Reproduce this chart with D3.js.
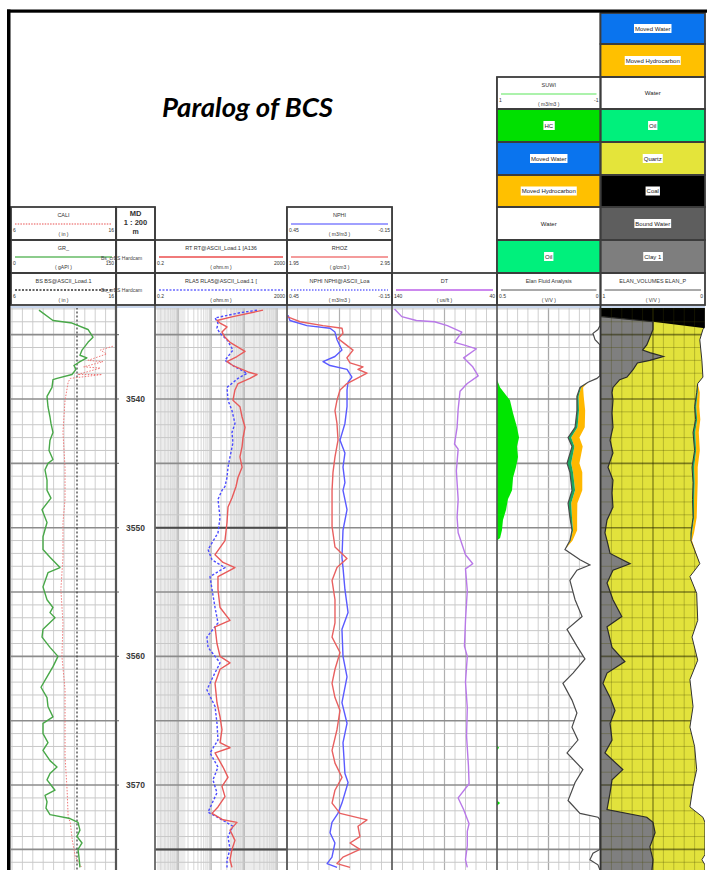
<!DOCTYPE html>
<html>
<head>
<meta charset="utf-8">
<script src="https://cdn.jsdelivr.net/npm/d3@7"></script>
<style>
  html, body { margin: 0; padding: 0; background: #fff; }
  svg { display: block; }
</style>
</head>
<body>
<svg id="chart" width="707" height="870"></svg>
<script>
// ---------------- well log data: [measured depth (m), value] ----------------
const grLog = [[3533.1,38.9],[3533.9,59.1],[3534.1,86.5],[3534.6,109.6],[3535.2,116.8],[3535.6,109.6],[3536.2,101],[3536.6,98],[3536.8,108],[3537.1,98],[3537.4,89.4],[3537.7,92.3],[3538.1,86.5],[3538.4,64.9],[3538.5,59.1],[3539.1,57.7],[3539.8,50.5],[3540.6,51.9],[3541.4,54.8],[3541.9,56.2],[3542.6,59.1],[3543.2,54.8],[3544.0,53.4],[3544.7,59.1],[3545.0,51.9],[3545.5,47.6],[3546.3,50.5],[3547.1,50.5],[3547.7,56.2],[3548.6,43.3],[3549.6,50.5],[3550.7,44.7],[3551.7,44.7],[3552.3,54.8],[3553.1,69.2],[3553.5,51.9],[3554.6,44.7],[3555.6,50.5],[3556.2,59.1],[3556.6,54.8],[3557.0,62],[3557.9,44.7],[3558.5,43.3],[3559.3,54.8],[3560.0,66.3],[3560.8,59.1],[3561.6,50.5],[3562.4,41.8],[3563.2,50.5],[3563.9,51.9],[3564.7,59.1],[3565.2,44.7],[3566.0,44.7],[3566.7,51.9],[3567.3,44.7],[3568.1,54.8],[3568.6,64.9],[3569.1,54.8],[3569.6,50.5],[3570.4,62],[3570.8,47.6],[3571.3,50.5],[3571.8,49],[3572.3,54.8],[3572.6,83.7],[3572.9,95.2],[3573.5,98],[3574.0,93.7],[3574.5,101],[3575.0,95.2],[3575.6,96.6],[3576.4,98]];

const caliLog = [[3535.9,15.7],[3536.2,14.5],[3536.5,15.1],[3537.0,13.3],[3537.1,14.75],[3537.5,12.9],[3537.6,14.5],[3538.1,12.3],[3538.1,14.65],[3538.4,11.6],[3538.7,11.4],[3540.1,11.1],[3542.6,10.9],[3545.3,11.1],[3547.8,11.1],[3549.6,10.9],[3552.3,10.9],[3554.8,10.7],[3557.4,10.9],[3560.0,10.8],[3562.6,11.1],[3565.2,11.1],[3567.8,11.1],[3570.4,11.3],[3572.5,11.4],[3572.9,11.6],[3574.3,11.8],[3575.6,12.1],[3576.4,12.7]];

const bsLog = [[3532.9,12.25],[3576.6,12.25]];

const rtLog = [[3533.1,375],[3533.6,46],[3533.9,15.1],[3534.1,18.7],[3534.4,30.4],[3534.8,21.4],[3535.2,26.4],[3535.6,37.5],[3536.3,107],[3536.7,61],[3537.1,30.4],[3537.4,46],[3537.9,132],[3538.1,247],[3538.4,151],[3538.8,65.5],[3539.3,53],[3540.1,46],[3540.6,75],[3541.4,87],[3542.2,107],[3543.0,93],[3543.7,87],[3544.5,75],[3545.3,87],[3546.1,65.5],[3546.8,57],[3547.7,43],[3548.4,32.6],[3549.6,30.4],[3551.0,26.4],[3552.1,13.2],[3552.7,23],[3553.1,53],[3553.8,16.2],[3554.8,16.2],[3556.2,18.7],[3557.2,37.5],[3557.7,13.2],[3559.0,15.1],[3560.0,18.7],[3560.5,37.5],[3561.0,18.7],[3562.1,13.2],[3563.6,15.1],[3564.7,18.7],[3565.7,21.4],[3566.7,18.7],[3567.1,37.5],[3567.5,13.2],[3568.6,23],[3569.4,32.6],[3570.1,21.4],[3570.9,26.4],[3571.7,16.2],[3572.2,10.7],[3572.7,23],[3572.9,61],[3573.5,37.5],[3574.3,53],[3575.0,43],[3575.8,37.5],[3576.4,43]];

const rla5Log = [[3533.1,247],[3533.3,75],[3533.7,13.2],[3534.1,16.2],[3534.5,15.1],[3534.9,18.7],[3535.4,30.4],[3536.2,46],[3537.0,26.4],[3537.5,53],[3538.0,123],[3538.4,65.5],[3539.1,30.4],[3540.1,32.6],[3540.9,43],[3541.9,53],[3542.6,43],[3543.4,46],[3544.5,37.5],[3545.3,32.6],[3546.1,30.4],[3546.8,26.4],[3547.1,21.4],[3547.8,16.2],[3549.2,18.7],[3550.4,16.2],[3551.7,8.1],[3552.5,10.7],[3553.1,26.4],[3553.8,9.3],[3554.8,10.7],[3556.2,13.2],[3557.4,16.2],[3558.5,7.5],[3559.3,8.1],[3560.5,18.7],[3561.6,11.4],[3562.6,7.5],[3563.9,13.2],[3565.2,15.1],[3566.5,16.2],[3567.5,9.3],[3568.6,16.2],[3569.6,11.4],[3570.6,15.1],[3572.1,8.1],[3572.7,21.4],[3573.2,46],[3574.0,32.6],[3575.0,37.5],[3575.8,30.4],[3576.4,30.4]];

const nphiLog = [[3533.5,0.444],[3533.9,0.433],[3534.3,0.336],[3534.5,0.204],[3534.8,0.176],[3535.4,0.164],[3536.2,0.136],[3536.7,0.176],[3537.1,0.244],[3537.4,0.204],[3537.7,0.107],[3538.3,0.079],[3538.7,0.101],[3539.3,0.107],[3540.6,0.107],[3541.9,0.119],[3543.2,0.147],[3544.2,0.119],[3545.3,0.130],[3546.5,0.119],[3547.1,0.130],[3548.6,0.107],[3550.2,0.130],[3552.3,0.136],[3553.1,0.130],[3554.8,0.119],[3556.6,0.101],[3557.9,0.136],[3560.0,0.130],[3561.6,0.107],[3563.6,0.136],[3565.2,0.107],[3566.7,0.130],[3569.1,0.119],[3569.8,0.101],[3571.4,0.136],[3572.2,0.159],[3572.9,0.193],[3573.7,0.204],[3574.5,0.176],[3575.6,0.193],[3576.1,0.221],[3576.4,0.164]];

const rhozLog = [[3533.6,1.95],[3534.0,2.074],[3534.3,2.293],[3534.5,2.474],[3534.9,2.483],[3535.3,2.436],[3535.6,2.483],[3536.2,2.579],[3536.8,2.521],[3537.2,2.55],[3537.5,2.674],[3537.7,2.626],[3538.0,2.712],[3538.4,2.617],[3538.8,2.521],[3539.3,2.455],[3540.1,2.426],[3540.9,2.407],[3541.9,2.426],[3543.2,2.436],[3544.5,2.407],[3545.7,2.388],[3547.1,2.379],[3548.6,2.379],[3549.9,2.379],[3551.5,2.407],[3552.4,2.521],[3553.1,2.426],[3554.1,2.379],[3555.6,2.407],[3557.4,2.407],[3558.5,2.379],[3559.7,2.455],[3561.0,2.407],[3562.1,2.379],[3563.2,2.407],[3564.2,2.455],[3565.7,2.426],[3567.3,2.379],[3568.3,2.407],[3569.4,2.474],[3570.4,2.407],[3571.4,2.379],[3572.2,2.455],[3572.7,2.712],[3573.2,2.626],[3574.0,2.645],[3574.5,2.55],[3575.0,2.645],[3575.6,2.483],[3576.1,2.426],[3576.4,2.55]];

const dtLog = [[3533.0,137.6],[3533.6,130.7],[3533.9,116.8],[3534.0,99.5],[3534.3,87.3],[3534.8,73.5],[3535.6,80.5],[3535.8,71.8],[3536.1,59.6],[3536.8,71.8],[3537.5,63.1],[3538.2,57.9],[3538.8,68.3],[3539.4,75.2],[3540.8,77.0],[3542.2,78.0],[3543.5,80.5],[3543.9,77.0],[3545.6,78.7],[3547.8,77.0],[3549.2,78.0],[3550.4,77.0],[3552.1,70.0],[3552.8,63.1],[3553.2,70.0],[3554.9,68.3],[3557.2,70.0],[3559.2,71.0],[3560.0,68.3],[3562.0,70.0],[3564.0,68.3],[3566.2,69.0],[3568.5,67.2],[3569.9,66.6],[3571.0,77.0],[3571.9,71.8],[3573.0,66.6],[3573.6,68.3],[3574.7,68.3],[3575.8,70.0],[3576.4,68.3]];

// hydrocarbon volume (V/V) from the Elan fluid analysis
const hcLog = [[3538.5,0],[3538.7,0.005],[3539.1,0.015],[3540.1,0.063],[3541.1,0.078],[3542.2,0.097],[3543.0,0.107],[3543.7,0.097],[3544.5,0.102],[3545.3,0.092],[3546.1,0.078],[3547.1,0.073],[3547.8,0.053],[3548.6,0.044],[3549.4,0.029],[3550.2,0.024],[3550.8,0.015],[3551.0,0],[3566.9,0],[3567.1,0.01],[3567.3,0],[3571.2,0],[3571.4,0.015],[3571.6,0]];

// Elan fluid analysis: porosity split into water / moved hydrocarbon / oil
const fluidDepth = [3532.93,3534.3,3534.6,3534.9,3535.4,3535.8,3538.2,3538.4,3538.7,3539.1,3539.8,3540.9,3542.2,3543.0,3543.7,3545.0,3545.7,3547.1,3548.1,3549.2,3550.2,3551.0,3551.7,3552.5,3552.9,3553.3,3554.1,3555.6,3556.9,3557.9,3559.2,3560.2,3561.3,3562.1,3563.4,3564.4,3565.5,3566.5,3567.5,3568.8,3569.8,3571.2,3572.2,3572.5,3572.7,3575.0,3575.3,3575.8,3576.2,3576.6];
const fluidPhi = [0,0,0.010,0.034,0.024,0,0,0.015,0.058,0.097,0.112,0.112,0.121,0.155,0.136,0.160,0.146,0.136,0.155,0.146,0.136,0.146,0.170,0.097,0.049,0.112,0.146,0.121,0.087,0.160,0.112,0.073,0.131,0.180,0.136,0.112,0.136,0.107,0.160,0.083,0.121,0.155,0.097,0.010,0,0,0.034,0.049,0.010,0];
const fluidOil = [0,0,0,0,0,0,0,0,0,0.005,0.008,0.010,0.012,0.015,0.012,0.020,0.015,0.015,0.015,0.010,0.005,0.003,0,0,0,0,0,0,0,0,0,0,0,0,0,0,0,0,0,0,0,0,0,0,0,0,0,0,0,0];
const fluidMovedHc = [0,0,0,0,0,0,0,0,0,0.010,0.025,0.030,0.035,0.040,0.040,0.040,0.045,0.035,0.030,0.025,0.020,0.010,0,0,0,0,0,0,0,0,0,0,0,0,0,0,0,0,0,0,0,0,0,0,0,0,0,0,0,0];

// Elan volumes: pore space on the right, clay from the left, coal at the top
const volDepth = [3532.93,3534.4,3534.6,3535.4,3537.0,3538.3,3538.8,3539.5,3540.6,3541.6,3542.6,3544.0,3545.3,3546.5,3547.8,3549.2,3550.4,3551.0,3552.8,3553.8,3555.1,3557.2,3558.5,3560.3,3561.8,3563.9,3565.5,3567.0,3568.8,3570.1,3571.7,3572.5,3572.9,3575.4,3575.8,3576.2,3576.6];
const volPhi = [0,0,0.02,0.05,0.03,0.02,0.07,0.08,0.10,0.09,0.115,0.10,0.125,0.115,0.12,0.115,0.135,0.135,0.05,0.145,0.08,0.07,0.125,0.07,0.145,0.115,0.145,0.10,0.08,0.115,0.145,0.02,0,0,0.03,0,0];
const volOil = [0,0,0,0,0,0,0,0.010,0.015,0.015,0.020,0.015,0.020,0.015,0.015,0.010,0.010,0,0,0,0,0,0,0,0,0,0,0,0,0,0,0,0,0,0,0,0];
const volMovedHc = [0,0,0,0,0,0,0,0.020,0.030,0.030,0.035,0.035,0.035,0.030,0.030,0.025,0.020,0.010,0,0,0,0,0,0,0,0,0,0,0,0,0,0,0,0,0,0,0];
const clayLog = [[3533.6,0],[3534.0,0.50],[3534.6,0.50],[3535.2,0.47],[3535.8,0.44],[3536.2,0.40],[3536.4,0.47],[3536.7,0.60],[3537.0,0.47],[3537.2,0.35],[3537.7,0.31],[3538.3,0.25],[3538.5,0.18],[3539.1,0.115],[3539.5,0.106],[3540.1,0.115],[3541.1,0.106],[3542.2,0.115],[3543.2,0.087],[3544.2,0.115],[3545.3,0.067],[3546.3,0.115],[3547.3,0.106],[3548.4,0.115],[3549.4,0.058],[3550.4,0.038],[3551.0,0.058],[3552.0,0.087],[3552.8,0.28],[3553.3,0.115],[3554.3,0.058],[3555.6,0.115],[3556.9,0.20],[3557.7,0.058],[3559.3,0.106],[3560.4,0.23],[3561.3,0.058],[3562.1,0.019],[3563.2,0.087],[3564.2,0.135],[3565.2,0.087],[3566.5,0.106],[3567.5,0.038],[3568.8,0.21],[3569.6,0.106],[3570.6,0.087],[3571.9,0.058],[3572.5,0.44],[3572.9,0.50],[3573.7,0.52],[3574.8,0.47],[3575.8,0.50],[3576.6,0.49]];
const coalLog = [[3532.93,1],[3533.6,1],[3534.0,0.5],[3534.5,0]];

const depthLabels = [3540, 3550, 3560, 3570];

// ---------------- layout ----------------
const svg = d3.select('#chart');
const FONT = "'Liberation Sans', Arial, sans-serif";
const yTop = 308, yBottom = 870;
const y = d3.scaleLinear().domain([3532.93, 3576.6]).range([yTop, yBottom]);

const T = {
  gr: [11, 116], md: [116, 155], res: [155, 287], por: [287, 392],
  son: [392, 497], fluid: [497, 600], vol: [601, 705]
};

const grX = d3.scaleLinear([0, 150], [12, 116]);
const caliX = d3.scaleLinear([6, 16], [12, 116]);
const resX = d3.scaleLog([0.2, 2000], T.res);
const nphiX = d3.scaleLinear([0.45, -0.15], T.por);
const rhozX = d3.scaleLinear([1.95, 2.95], T.por);
const dtX = d3.scaleLinear([140, 40], T.son);
const fluidX = d3.scaleLinear([0.5, 0], T.fluid);
const volX = d3.scaleLinear([1, 0], T.vol);

svg.append('rect').attr('width', 707).attr('height', 870).attr('fill', '#fff');

const defs = svg.append('defs');
Object.entries(T).forEach(([k, [x0, x1]]) => {
  defs.append('clipPath').attr('id', 'clip-' + k)
    .append('rect').attr('x', x0).attr('y', yTop).attr('width', x1 - x0).attr('height', yBottom - yTop);
});

function trackGroup(k) { return svg.append('g').attr('clip-path', `url(#clip-${k})`); }

const meterDepths = d3.range(3533, 3577);

function hGrid(g, x0, x1, minor, major, wMinor, wMajor) {
  g.selectAll(null).data(meterDepths).join('line')
    .attr('x1', x0).attr('x2', x1)
    .attr('y1', d => y(d)).attr('y2', d => y(d))
    .attr('stroke', d => d % 5 === 0 ? major : minor)
    .attr('stroke-width', d => d % 5 === 0 ? wMajor : wMinor);
}
function vGrid(g, xs, color, w) {
  g.selectAll(null).data(xs).join('line')
    .attr('x1', d => d).attr('x2', d => d)
    .attr('y1', yTop).attr('y2', yBottom)
    .attr('stroke', color).attr('stroke-width', w);
}
function linearTicks(scale, n) {
  const [a, b] = scale.domain();
  return d3.range(n + 1).map(i => scale(a + (b - a) * i / n));
}
function curve(g, data, sx, color, width, dash) {
  g.append('path').datum(data)
    .attr('d', d3.line().x(d => sx(d[1])).y(d => y(d[0])))
    .attr('fill', 'none').attr('stroke', color).attr('stroke-width', width)
    .attr('stroke-linejoin', 'round')
    .attr('stroke-dasharray', dash || null);
}

// ---- track 1: GR / CALI / BS ----
{
  const g = trackGroup('gr');
  vGrid(g, linearTicks(grX, 10), '#cfcfcf', 1);
  hGrid(g, ...T.gr, '#c8c8c8', '#8c8c8c', 1, 1.6);
  curve(g, bsLog, caliX, '#333', 1.2, '2,2');
  curve(g, caliLog, caliX, '#f07878', 1, '1.5,1.5');
  curve(g, grLog, grX, '#48a848', 1.4);
}

// ---- depth track ----
{
  const g = svg.append('g');
  g.selectAll(null).data(depthLabels).join('text')
    .attr('x', 135.5).attr('y', d => y(d) + 3)
    .attr('text-anchor', 'middle')
    .attr('font-family', FONT).attr('font-weight', 'bold').attr('font-size', 8.5)
    .attr('fill', '#3a3a3a').text(d => d);
  g.selectAll(null).data(meterDepths.filter(d => d % 5 === 0)).join('line')
    .attr('x1', 116).attr('x2', 119).attr('y1', d => y(d)).attr('y2', d => y(d))
    .attr('stroke', '#777').attr('stroke-width', 1.2);
}

// ---- track 3: resistivity (log) ----
{
  const g = trackGroup('res');
  // shaded bands of the resistivity grid
  const w = T.res[1] - T.res[0];
  g.selectAll(null).data([[0.015, 0.23], [0.57, 0.92]]).join('rect')
    .attr('x', d => T.res[0] + d[0] * w).attr('width', d => (d[1] - d[0]) * w)
    .attr('y', yTop).attr('height', yBottom - yTop)
    .attr('fill', '#ececec');
  const minor = [], decades = [];
  for (let k = -1; k <= 3; k++) for (let m = 1; m <= 9; m++) {
    const v = m * Math.pow(10, k);
    if (v >= 0.2 && v <= 2000) (m === 1 ? decades : minor).push(resX(v));
  }
  vGrid(g, minor, '#d6d6d6', 1);
  vGrid(g, decades, '#a8a8a8', 1.2);
  hGrid(g, ...T.res, '#c8c8c8', '#8c8c8c', 1, 1.6);
  g.selectAll(null).data([3550, 3575]).join('line')
    .attr('x1', T.res[0]).attr('x2', T.res[1]).attr('y1', d => y(d)).attr('y2', d => y(d))
    .attr('stroke', '#4a4a4a').attr('stroke-width', 2);
  curve(g, rla5Log, resX, '#4b4bff', 1.4, '2.5,1.8');
  curve(g, rtLog, resX, '#e85a5a', 1.4);
}

// ---- track 4: NPHI / RHOZ ----
{
  const g = trackGroup('por');
  const xs = linearTicks(nphiX, 10);
  vGrid(g, xs, '#cfcfcf', 1);
  vGrid(g, [xs[5]], '#b0b0b0', 1.2);
  hGrid(g, ...T.por, '#c8c8c8', '#8c8c8c', 1, 1.6);
  curve(g, nphiLog, nphiX, '#5a5aff', 1.4);
  curve(g, rhozLog, rhozX, '#e86060', 1.4);
}

// ---- track 5: DT ----
{
  const g = trackGroup('son');
  const xs = linearTicks(dtX, 10);
  vGrid(g, xs, '#cfcfcf', 1);
  vGrid(g, [xs[5]], '#b0b0b0', 1.2);
  hGrid(g, ...T.son, '#c8c8c8', '#8c8c8c', 1, 1.6);
  curve(g, dtLog, dtX, '#b878e8', 1.4);
}

// ---- track 6: Elan fluid analysis ----
{
  const g = trackGroup('fluid');
  const xs = linearTicks(fluidX, 10);
  vGrid(g, xs, '#cfcfcf', 1);
  vGrid(g, [xs[5]], '#a8a8a8', 1.3);
  hGrid(g, ...T.fluid, '#c8c8c8', '#8c8c8c', 1, 1.6);

  g.append('path').datum(hcLog)
    .attr('d', d3.area().y(d => y(d[0])).x0(fluidX(0.5)).x1(d => fluidX(0.5 - d[1])))
    .attr('fill', '#00e600');

  const rows = fluidDepth.map((d, i) => ({ d, phi: fluidPhi[i], oil: fluidOil[i], mh: fluidMovedHc[i] }));
  g.append('path').datum(rows)
    .attr('d', d3.area().y(r => y(r.d)).x0(fluidX(0)).x1(r => fluidX(r.phi)))
    .attr('fill', '#fff');
  g.append('path').datum(rows)
    .attr('d', d3.area().y(r => y(r.d)).x0(r => fluidX(r.phi - r.oil)).x1(r => fluidX(r.phi - r.oil - r.mh)))
    .attr('fill', '#ffb800');
  g.append('path').datum(rows)
    .attr('d', d3.area().y(r => y(r.d)).x0(r => fluidX(r.phi)).x1(r => fluidX(r.phi - r.oil)))
    .attr('fill', '#1aa860');
  g.append('path').datum(rows)
    .attr('d', d3.line().y(r => y(r.d)).x(r => fluidX(r.phi)))
    .attr('fill', 'none').attr('stroke', '#4a4a4a').attr('stroke-width', 1.2);
}

// ---- track 7: Elan volumes ----
{
  const g = trackGroup('vol');
  g.append('rect')
    .attr('x', volX(1)).attr('y', y(3532.93))
    .attr('width', volX(0) - volX(1)).attr('height', y(3576.6) - y(3532.93))
    .attr('fill', '#e2e23c');
  g.append('path').datum(clayLog)
    .attr('d', d3.area().y(d => y(d[0])).x0(volX(1)).x1(d => volX(1 - d[1])))
    .attr('fill', '#7f7f7f');
  g.append('path').datum(coalLog)
    .attr('d', d3.area().y(d => y(d[0])).x0(volX(0)).x1(d => volX(d[1])))
    .attr('fill', '#000');

  // grid seen through the mineral fill
  const xs = linearTicks(volX, 10);
  vGrid(g, xs, 'rgba(70,70,0,0.28)', 1);
  vGrid(g, [xs[5]], 'rgba(60,60,0,0.45)', 1.3);
  hGrid(g, ...T.vol, 'rgba(70,70,0,0.3)', 'rgba(40,40,0,0.55)', 1, 1.6);

  const rows = volDepth.map((d, i) => ({ d, phi: volPhi[i], oil: volOil[i], mh: volMovedHc[i] }));
  g.append('path').datum(rows)
    .attr('d', d3.area().y(r => y(r.d)).x0(volX(0)).x1(r => volX(r.phi)))
    .attr('fill', '#fff');
  g.append('path').datum(rows)
    .attr('d', d3.area().y(r => y(r.d)).x0(r => volX(r.phi - r.oil)).x1(r => volX(r.phi - r.oil - r.mh)))
    .attr('fill', '#ffb800');
  g.append('path').datum(rows)
    .attr('d', d3.area().y(r => y(r.d)).x0(r => volX(r.phi)).x1(r => volX(r.phi - r.oil)))
    .attr('fill', '#1aa860');
  g.append('path').datum(rows)
    .attr('d', d3.line().y(r => y(r.d)).x(r => volX(r.phi)))
    .attr('fill', 'none').attr('stroke', '#333').attr('stroke-width', 1);
  g.append('path').datum(clayLog)
    .attr('d', d3.line().y(d => y(d[0])).x(d => volX(1 - d[1])))
    .attr('fill', 'none').attr('stroke', '#2a2a2a').attr('stroke-width', 1.2);
}

// ---- track borders ----
svg.append('line').attr('x1', 11).attr('x2', 705).attr('y1', 307).attr('y2', 307)
  .attr('stroke', '#b8cbe8').attr('stroke-width', 1.5);
const borders = [
  { x: 116, top: 207, c: '#555', w: 2.2 }, { x: 155, top: 207, c: '#666', w: 1.8 },
  { x: 287, top: 207, c: '#555', w: 1.8 }, { x: 392, top: 207, c: '#555', w: 1.6 },
  { x: 497, top: 77, c: '#555', w: 1.6 }, { x: 600.5, top: 13, c: '#333', w: 1.8 }
];
svg.selectAll(null).data(borders).join('line')
  .attr('x1', d => d.x).attr('x2', d => d.x).attr('y1', d => d.top).attr('y2', yBottom)
  .attr('stroke', d => d.c).attr('stroke-width', d => d.w);

// ---------------- headers ----------------
const curveHeaders = [
  { x0: 11, x1: 116, top: 207, bot: 240, name: 'CALI', min: '6', max: '16', unit: '( in )', color: '#f08a8a', dash: '1.5,1.2', w: 1.5 },
  { x0: 11, x1: 116, top: 240, bot: 273, name: 'GR_', min: '0', max: '150', unit: '( gAPI )', color: '#66bb66', w: 1.6 },
  { x0: 11, x1: 116, top: 273, bot: 305, name: 'BS BS@ASCII_Load.1', min: '6', max: '16', unit: '( in )', color: '#333', dash: '2,1.5', w: 1.4 },
  { x0: 155, x1: 287, top: 240, bot: 273, name: 'RT RT@ASCII_Load.1 [A136', min: '0.2', max: '2000', unit: '( ohm.m )', color: '#f07a7a', w: 1.8 },
  { x0: 155, x1: 287, top: 273, bot: 305, name: 'RLA5 RLA5@ASCII_Load.1 [', min: '0.2', max: '2000', unit: '( ohm.m )', color: '#6a6aff', dash: '2,1.5', w: 1.6 },
  { x0: 287, x1: 392, top: 207, bot: 240, name: 'NPHI', min: '0.45', max: '-0.15', unit: '( m3/m3 )', color: '#8080ff', w: 1.6 },
  { x0: 287, x1: 392, top: 240, bot: 273, name: 'RHOZ', min: '1.95', max: '2.95', unit: '( g/cm3 )', color: '#f07a7a', w: 1.6 },
  { x0: 287, x1: 392, top: 273, bot: 305, name: 'NPHI NPHI@ASCII_Loa', min: '0.45', max: '-0.15', unit: '( m3/m3 )', color: '#6a6aff', dash: '1.5,1.5', w: 1.6 },
  { x0: 392, x1: 497, top: 273, bot: 305, name: 'DT', min: '140', max: '40', unit: '( us/ft )', color: '#cc88ee', w: 1.8 },
  { x0: 497, x1: 600.5, top: 77, bot: 109, name: 'SUWI', min: '1', max: '-1', unit: '( m3/m3 )', color: '#90ee90', w: 1.5 },
  { x0: 497, x1: 600.5, top: 273, bot: 305, name: 'Elan Fluid Analysis', min: '0.5', max: '0', unit: '( V/V )', color: '#555', w: 1 },
  { x0: 600.5, x1: 705, top: 273, bot: 305, name: 'ELAN_VOLUMES ELAN_P', min: '1', max: '0', unit: '( V/V )', color: '#555', w: 1 }
];
const legendHeaders = [
  { x0: 497, x1: 600.5, top: 109, bot: 142, name: 'HC', fill: '#00e000' },
  { x0: 497, x1: 600.5, top: 142, bot: 175, name: 'Moved Water', fill: '#0a74ee' },
  { x0: 497, x1: 600.5, top: 175, bot: 207, name: 'Moved Hydrocarbon', fill: '#ffc000' },
  { x0: 497, x1: 600.5, top: 207, bot: 240, name: 'Water', fill: '#ffffff' },
  { x0: 497, x1: 600.5, top: 240, bot: 273, name: 'Oil', fill: '#00f07c' },
  { x0: 600.5, x1: 705, top: 13, bot: 44, name: 'Moved Water', fill: '#0a74ee' },
  { x0: 600.5, x1: 705, top: 44, bot: 77, name: 'Moved Hydrocarbon', fill: '#ffc000' },
  { x0: 600.5, x1: 705, top: 77, bot: 109, name: 'Water', fill: '#ffffff' },
  { x0: 600.5, x1: 705, top: 109, bot: 142, name: 'Oil', fill: '#00f07c' },
  { x0: 600.5, x1: 705, top: 142, bot: 175, name: 'Quartz', fill: '#e4e43a' },
  { x0: 600.5, x1: 705, top: 175, bot: 207, name: 'Coal', fill: '#000000' },
  { x0: 600.5, x1: 705, top: 207, bot: 240, name: 'Bound Water', fill: '#5e5e5e' },
  { x0: 600.5, x1: 705, top: 240, bot: 273, name: 'Clay 1', fill: '#7e7e7e' }
];
const plainBoxes = [
  { x0: 116, x1: 155, top: 207, bot: 240 }, { x0: 116, x1: 155, top: 240, bot: 273 },
  { x0: 116, x1: 155, top: 273, bot: 305 }
];

const hg = svg.append('g').attr('font-family', FONT).attr('fill', '#333');

curveHeaders.forEach(h => {
  const cx = (h.x0 + h.x1) / 2;
  hg.append('rect').attr('x', h.x0).attr('y', h.top).attr('width', h.x1 - h.x0).attr('height', h.bot - h.top).attr('fill', '#fff');
  hg.append('text').attr('x', cx).attr('y', h.top + 10).attr('text-anchor', 'middle').attr('font-size', 5.5).text(h.name);
  hg.append('line').attr('x1', h.x0 + 4).attr('x2', h.x1 - 4).attr('y1', h.top + 17).attr('y2', h.top + 17)
    .attr('stroke', h.color).attr('stroke-width', h.w).attr('stroke-dasharray', h.dash || null);
  hg.append('text').attr('x', h.x0 + 2).attr('y', h.top + 25).attr('font-size', 5).text(h.min);
  hg.append('text').attr('x', h.x1 - 2).attr('y', h.top + 25).attr('text-anchor', 'end').attr('font-size', 5).text(h.max);
  hg.append('text').attr('x', cx).attr('y', h.top + 29).attr('text-anchor', 'middle').attr('font-size', 5).text(h.unit);
});

legendHeaders.forEach(h => {
  const cx = (h.x0 + h.x1) / 2, cy = (h.top + h.bot) / 2;
  hg.append('rect').attr('x', h.x0).attr('y', h.top).attr('width', h.x1 - h.x0).attr('height', h.bot - h.top).attr('fill', h.fill);
  const t = hg.append('text').attr('x', cx).attr('y', cy + 2.2).attr('text-anchor', 'middle')
    .attr('font-size', 6).attr('fill', '#222').text(h.name);
  if (h.fill !== '#ffffff') {
    const bb = t.node().getBBox();
    hg.insert('rect', () => t.node())
      .attr('x', bb.x - 1).attr('y', cy - 4.5).attr('width', bb.width + 2).attr('height', 9).attr('fill', '#fff');
  }
});

// depth header
hg.append('g').attr('font-weight', 'bold').attr('text-anchor', 'middle').attr('fill', '#333')
  .selectAll('text').data([['MD', 215.5, 7.5], ['1 : 200', 225, 7.5], ['m', 234, 7]]).join('text')
  .attr('x', 135.5).attr('y', d => d[1]).attr('font-size', d => d[2]).text(d => d[0]);

// reference labels drawn across the GR / BS headers
hg.selectAll(null).data([259.5, 291.5]).join('text')
  .attr('x', 101).attr('y', d => d).attr('font-size', 5).attr('fill', '#444')
  .text('Bs_crBS   Hardcam');

// header box outlines
const allBoxes = [...curveHeaders, ...legendHeaders, ...plainBoxes];
hg.selectAll(null).data(allBoxes).join('rect')
  .attr('x', d => d.x0).attr('y', d => d.top).attr('width', d => d.x1 - d.x0).attr('height', d => d.bot - d.top)
  .attr('fill', 'none').attr('stroke', '#3c3c3c').attr('stroke-width', 1.8);

// ---------------- frame & title ----------------
svg.append('rect').attr('x', 7).attr('y', 9.5).attr('width', 700).attr('height', 3.2).attr('fill', '#000');
svg.append('rect').attr('x', 7).attr('y', 9.5).attr('width', 3.5).attr('height', 860.5).attr('fill', '#000');

svg.append('text')
  .attr('x', 162).attr('y', 117)
  .attr('font-family', "Lato, 'Open Sans', sans-serif")
  .attr('font-weight', 'bold').attr('font-style', 'italic')
  .attr('font-size', 27)
  .attr('textLength', 171).attr('lengthAdjust', 'spacingAndGlyphs')
  .attr('fill', '#000')
  .text('Paralog of BCS');
</script>
</body>
</html>
